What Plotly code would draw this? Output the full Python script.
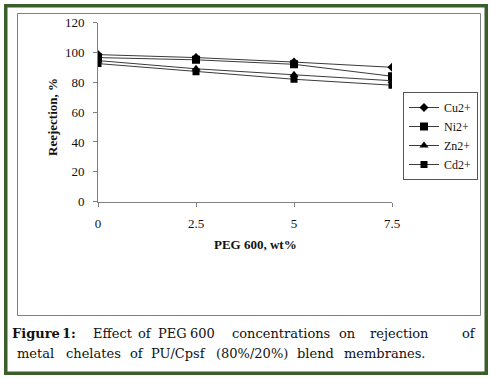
import plotly.graph_objects as go

W, H = 491, 379

peg = [0, 2.5, 5, 7.5]
x_tick_labels = ["0", "2.5", "5", "7.5"]
y_ticks = [0, 20, 40, 60, 80, 100, 120]
cu = [98.5, 96.5, 93.5, 90.0]
ni = [96.5, 95.0, 92.0, 84.0]
zn = [94.5, 89.0, 85.0, 81.0]
cd = [92.5, 87.0, 82.0, 78.0]
series_names = ["Cu2+", "Ni2+", "Zn2+", "Cd2+"]


def px(x):
    return x / W


def py(y):
    return 1 - y / H


fig = go.Figure()
styles = [
    ("diamond", 7),
    ("square", 8),
    ("triangle-up", 8),
    ("square", 7),
]
for name, vals, (sym, size) in zip(series_names, [cu, ni, zn, cd], styles):
    fig.add_trace(go.Scatter(
        x=peg, y=vals, name=name, mode="lines+markers",
        line=dict(color="#3a3a3a", width=1),
        marker=dict(symbol=sym, size=size, color="black"),
    ))

serif = "Liberation Serif"
axis_common = dict(
    showgrid=False, zeroline=False, showline=True, linecolor="#808080", linewidth=1,
    ticks="outside", ticklen=4, tickcolor="#808080", tickwidth=1, automargin=False,
    tickfont=dict(family=serif, size=13, color="#111"),
)
fig.update_layout(
    width=W, height=H, margin=dict(l=0, r=0, t=0, b=0, autoexpand=False),
    paper_bgcolor="white", plot_bgcolor="white",
    xaxis=dict(domain=[px(98), px(392)], range=[0, 7.5], tickvals=peg, ticktext=x_tick_labels,
               ticklabelstandoff=6, **axis_common),
    yaxis=dict(domain=[py(201.7), py(22.5)], range=[0, 120], tickvals=y_ticks,
               ticklabelstandoff=6, **axis_common),
    legend=dict(x=px(403), y=py(92), xanchor="left", yanchor="top",
                bordercolor="#555", borderwidth=1, bgcolor="white",
                font=dict(family=serif, size=12, color="#111"),
                tracegroupgap=0, itemwidth=30),
    showlegend=True,
)

shapes = [
    dict(type="rect", xref="paper", yref="paper", x0=px(5.75), x1=px(486.25), y0=py(373.25), y1=py(5.75),
         line=dict(color="#3b5e2b", width=3.5)),
    dict(type="rect", xref="paper", yref="paper", x0=px(17.5), x1=px(480.5), y0=py(315.5), y1=py(13.5),
         line=dict(color="#808080", width=1)),
]
fig.update_layout(shapes=shapes)

ann = []
ann.append(dict(text="<b>Reejection, %</b>", x=px(52), y=py(117), xref="paper", yref="paper",
                showarrow=False, textangle=-90, font=dict(family=serif, size=13, color="#111"),
                xanchor="center", yanchor="middle"))
ann.append(dict(text="<b>PEG 600, wt%</b>", x=px(256), y=py(244), xref="paper", yref="paper",
                showarrow=False, font=dict(family=serif, size=13, color="#111"),
                xanchor="center", yanchor="middle"))

cap_font = dict(family="DejaVu Serif", size=13, color="#111")
line1 = [("<b>Figure</b>", 36), ("<b>1:</b>", 69), ("Effect", 113), ("of", 145), ("PEG", 172.5),
         ("600", 202.5), ("concentrations", 280.5), ("on", 347.5), ("rejection", 399), ("of", 469)]
line2 = [("metal", 35.5), ("chelates", 93.5), ("of", 136.5), ("PU/Cpsf", 178), ("(80%/20%)", 251.5),
         ("blend", 315), ("membranes.", 385)]
for words, ypos in ((line1, 333), (line2, 353)):
    for word, xpos in words:
        ann.append(dict(text=word, x=px(xpos), y=py(ypos), xref="paper", yref="paper", showarrow=False,
                        font=cap_font, xanchor="center", yanchor="middle"))
fig.update_layout(annotations=ann)

fig.write_html("out.html", config={"displayModeBar": False},
               post_script="document.body.style.margin='0';")
